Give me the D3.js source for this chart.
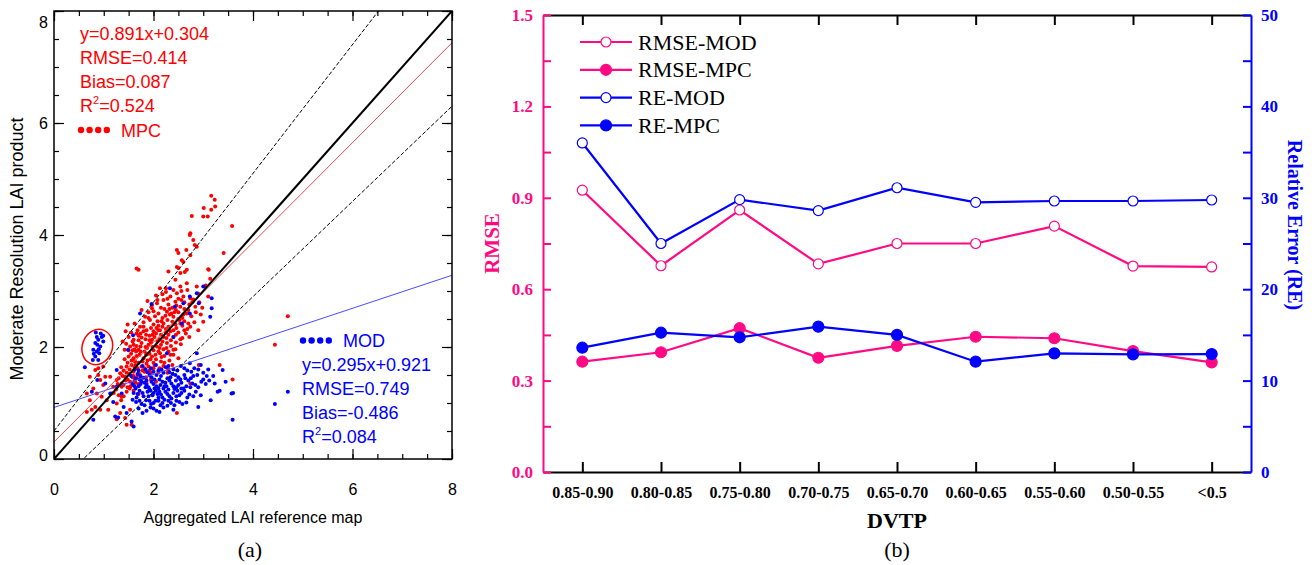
<!DOCTYPE html>
<html>
<head>
<meta charset="utf-8">
<script src="https://cdn.jsdelivr.net/npm/d3@7"></script>
<style>
  body { margin: 0; background: #fff; }
  .sans { font-family: "Liberation Sans", Arial, Helvetica, sans-serif; }
  .serif { font-family: "Liberation Serif", "Times New Roman", serif; }
</style>
</head>
<body>
<div id="wrapper"></div>
<script>
// ---- panel (a) data: scatter (LAI reference, LAI product)
const mpcPoints = [
  [3.16,4.70],[3.23,4.63],[3.24,4.51],[3.16,4.45],[3.01,4.48],[3.09,4.33],[3.58,4.16],[2.77,4.34],
  [3.00,4.33],[2.74,4.03],[2.80,3.91],[2.87,3.79],[2.66,3.73],[2.74,3.64],[2.50,3.68],[2.60,3.52],
  [3.41,3.68],[1.66,3.40],[1.70,3.38],[2.30,3.35],[2.47,3.43],[2.54,3.32],[2.67,3.38],[2.44,3.20],
  [2.54,3.08],[2.67,3.14],[2.25,3.05],[2.87,3.08],[3.11,3.38],[2.73,4.00],[2.83,3.82],[2.57,3.55],
  [2.47,3.73],[2.50,3.41],[2.63,3.34],[3.10,3.39],[3.05,3.10],[3.14,3.22],[2.98,2.70],[3.00,2.45],
  [2.90,2.30],[3.10,2.90],
  [2.13,3.05],[2.25,2.98],[2.34,2.90],[2.47,2.96],[2.60,2.90],[2.74,2.87],[2.40,3.02],[2.56,3.00],
  [2.90,2.95],[2.05,2.92],[2.68,3.02],
  [2.20,2.84],[2.07,2.78],[2.44,2.81],[2.54,2.72],[2.84,2.72],[1.97,2.75],[2.30,2.76],[2.62,2.80],
  [2.72,2.76],[2.38,2.70],[2.15,2.70],[2.92,2.80],[1.88,2.82],[2.50,2.86],[2.80,2.85],
  [1.97,2.69],[1.83,2.54],[2.10,2.60],[2.27,2.63],[2.40,2.54],[2.67,2.60],[2.03,2.55],[2.18,2.52],
  [2.33,2.58],[2.50,2.62],[2.58,2.52],[2.76,2.55],[1.90,2.62],[2.45,2.66],[2.85,2.62],[1.76,2.66],
  [2.22,2.68],[2.62,2.68],[2.95,2.58],
  [1.93,2.48],[2.54,2.42],[2.74,2.36],[1.73,2.36],[1.86,2.30],[2.13,2.30],[2.30,2.36],[1.80,2.44],
  [2.00,2.40],[2.08,2.46],[2.20,2.42],[2.38,2.45],[2.46,2.34],[2.62,2.46],[2.68,2.32],[1.62,2.42],
  [2.25,2.32],[2.82,2.44],[1.95,2.34],[2.40,2.30],[2.10,2.38],[1.68,2.30],[2.58,2.38],
  [1.66,2.24],[1.60,2.13],[1.76,2.17],[1.97,2.13],[2.20,2.18],[2.40,2.18],[1.85,2.22],[2.05,2.24],
  [2.12,2.14],[2.30,2.22],[2.50,2.26],[2.58,2.16],[1.70,2.12],[1.92,2.20],[2.35,2.12],[2.45,2.22],
  [1.55,2.26],[2.65,2.24],[2.00,2.28],[1.80,2.28],[2.25,2.26],[1.50,2.18],[2.72,2.18],[2.15,2.22],
  [1.44,2.28],[1.38,2.10],[1.42,1.95],[1.48,2.40],
  [1.53,2.01],[1.70,1.95],[1.87,1.98],[2.07,2.01],[2.27,2.07],[1.76,2.07],[1.60,2.04],[1.95,2.08],
  [2.15,2.04],[2.35,2.02],[2.45,2.08],[1.65,1.92],[1.82,1.92],[2.00,1.94],[2.20,1.96],[2.40,1.95],
  [1.45,2.06],[1.58,1.94],[2.55,2.05],[2.10,1.92],[1.90,2.04],[1.74,2.01],[2.30,1.92],
  [1.50,1.83],[1.63,1.74],[1.80,1.80],[1.97,1.83],[2.13,1.89],[1.55,1.88],[1.72,1.86],[1.88,1.76],
  [2.05,1.78],[2.22,1.84],[2.32,1.76],[1.42,1.78],[1.60,1.80],[1.92,1.88],[2.40,1.86],[2.15,1.74],
  [1.70,1.72],[1.48,1.72],[2.50,1.80],[1.85,1.86],[2.00,1.72],
  [1.46,1.65],[1.60,1.56],[1.76,1.65],[1.90,1.65],[1.52,1.60],[1.68,1.62],[1.82,1.56],[2.00,1.62],
  [2.10,1.55],[2.20,1.66],[1.40,1.58],[1.56,1.68],[1.72,1.52],[2.30,1.60],[1.95,1.54],[1.64,1.68],
  [2.38,1.68],[1.35,1.64],
  [1.43,1.47],[1.53,1.38],[1.66,1.44],[1.36,1.35],[1.48,1.42],[1.60,1.48],[1.75,1.40],[1.85,1.46],
  [1.30,1.44],[1.40,1.32],[1.95,1.42],[1.70,1.34],[2.05,1.38],[1.58,1.32],
  [1.36,1.29],[1.46,1.20],[1.30,1.14],[1.25,1.24],[1.52,1.26],[1.40,1.12],[1.60,1.22],[1.20,1.18],
  [1.70,1.16],[1.35,1.05],
  [1.52,1.52],[1.62,1.64],[1.78,1.58],[1.86,1.70],[1.94,1.78],[2.04,1.86],[2.12,1.98],[2.18,2.10],
  [2.26,2.16],[2.34,2.28],[2.44,2.40],[2.52,2.48],[2.60,2.58],[2.70,2.66],[2.78,2.80],
  [1.46,1.54],[1.56,1.76],[1.66,1.84],[1.74,1.92],[1.84,2.00],[1.92,2.12],[2.02,2.18],[2.10,2.30],
  [2.18,2.36],[2.28,2.48],[2.36,2.60],[2.46,2.74],[2.56,2.84],
  [1.58,1.46],[1.68,1.50],[1.78,1.74],[1.88,1.88],[1.98,2.00],[2.08,2.10],[2.16,1.82],[2.26,1.98],
  [2.34,1.86],[2.44,1.96],[2.54,2.14],[2.62,2.30],[2.70,2.42],
  [1.62,1.96],[1.70,2.20],[1.80,2.36],[1.90,2.52],[2.00,2.64],[2.08,2.84],[2.18,2.94],[2.28,2.86],
  [1.50,1.94],[1.58,2.10],[1.66,2.02],[1.74,2.24],[1.84,2.14],[1.98,2.22],[2.06,2.34],[2.16,2.46],
  [2.24,2.56],[2.32,2.68],[2.42,2.62],[2.50,2.50],
  [1.44,1.40],[1.54,1.30],[1.64,1.36],[1.74,1.46],[1.82,1.62],[1.92,1.58],[2.02,1.68],[2.12,1.62],
  [2.22,1.72],[2.28,1.54],[1.38,1.48],[1.28,1.34],[1.48,1.28],[1.62,1.40],
  [0.83,1.59],[0.89,1.50],[0.93,1.41],[0.99,1.32],[0.79,1.26],[0.86,1.17],[0.96,1.11],[0.72,1.05],
  [1.06,1.05],[0.83,0.93],[0.93,0.88],[0.76,0.88],[1.16,1.17],[1.19,1.29],[1.26,0.99],[1.09,0.88],
  [1.33,0.82],[1.43,0.73],[1.53,0.88],[1.56,0.61],[1.46,0.61],[0.99,1.65],[0.89,1.62],[1.03,1.47],
  [0.72,1.47],[0.66,1.17],[1.26,1.41],[1.33,1.53],[1.13,1.47],[1.36,1.11],[0.66,0.84],[1.26,0.71],
  [2.91,1.68],[2.74,1.35],[2.47,0.82],[3.33,1.68],[3.59,1.42],[1.86,1.35],
  [4.70,2.55],[4.44,2.04]
]

const modPoints = [
  [0.94,2.24],[0.99,2.20],[0.86,2.18],[0.89,2.13],[0.83,2.07],[0.87,2.04],[0.93,2.01],[0.79,1.95],
  [0.86,1.92],[0.91,1.89],[0.83,1.83],[0.78,1.77],[0.89,1.77],[0.96,2.18],[0.99,2.10],[0.84,2.26],
  [0.90,1.96],[0.80,1.88],
  [0.62,1.64],[0.76,1.20],[0.87,1.41],[0.79,0.70],[1.13,1.17],[1.19,1.02],[1.03,1.35],[1.26,1.29],
  [1.36,1.17],[1.40,0.93],[1.56,0.67],[1.60,0.58],[1.46,0.82],[1.23,0.76],[1.29,0.74],[1.26,1.59],
  [1.62,1.60],[1.78,1.66],[1.95,1.62],[2.10,1.58],[2.25,1.64],[2.40,1.60],[2.55,1.66],[2.68,1.58],
  [2.82,1.62],[1.88,1.55],[2.32,1.55],[2.95,1.68],[3.10,1.60],[2.05,1.68],
  [1.55,1.48],[1.68,1.52],[1.80,1.45],[1.92,1.50],[2.02,1.42],[2.15,1.48],[2.28,1.44],[2.38,1.52],
  [2.50,1.46],[2.62,1.50],[2.75,1.44],[2.88,1.50],[3.00,1.42],[1.72,1.42],[2.45,1.40],[2.20,1.54],
  [3.20,1.48],[3.07,1.48],
  [1.58,1.34],[1.70,1.30],[1.82,1.36],[1.90,1.28],[2.00,1.34],[2.10,1.26],[2.18,1.38],[2.26,1.30],
  [2.36,1.35],[2.46,1.28],[2.56,1.36],[2.66,1.30],[2.78,1.35],[2.90,1.28],[1.64,1.26],[1.96,1.38],
  [2.42,1.25],[3.05,1.34],[3.23,1.35],[2.70,1.40],[2.14,1.32],[1.76,1.38],[2.32,1.40],[2.06,1.30],
  [1.60,1.18],[1.72,1.22],[1.80,1.12],[1.88,1.20],[1.98,1.14],[2.05,1.22],[2.15,1.15],[2.24,1.20],
  [2.32,1.12],[2.40,1.18],[2.52,1.14],[2.62,1.22],[2.72,1.15],[2.85,1.20],[1.66,1.10],[2.10,1.10],
  [2.95,1.14],[3.29,1.20],[3.57,1.17],[1.92,1.24],[2.48,1.22],[2.20,1.26],[1.84,1.28],[2.56,1.26],
  [1.65,1.02],[1.76,0.98],[1.85,1.05],[1.95,0.98],[2.04,1.04],[2.14,0.96],[2.22,1.06],[2.35,1.00],
  [2.46,1.04],[2.58,0.98],[2.66,1.01],[1.58,1.06],[2.28,0.95],[2.90,0.93],
  [1.70,0.90],[1.86,0.86],[2.00,0.90],[2.12,0.84],[2.40,0.88],[2.20,0.92],[1.78,0.82],
  [1.64,1.44],[1.74,1.48],[1.86,1.40],[1.96,1.46],[2.06,1.50],[2.12,1.42],[2.24,1.36],[2.34,1.46],
  [2.44,1.50],[2.54,1.42],[2.64,1.44],[2.80,1.48],
  [1.62,1.30],[1.74,1.34],[1.86,1.32],[1.94,1.22],[2.02,1.26],[2.12,1.20],[2.22,1.30],[2.30,1.24],
  [2.40,1.30],[2.50,1.32],[2.60,1.26],[2.74,1.28],[2.84,1.32],
  [1.68,1.16],[1.78,1.18],[1.90,1.12],[2.00,1.18],[2.08,1.16],[2.18,1.10],[2.28,1.16],[2.36,1.08],
  [2.46,1.12],[2.56,1.18],[2.68,1.10],[2.80,1.12],
  [1.72,1.04],[1.82,0.96],[1.92,1.04],[2.00,1.00],[2.10,1.04],[2.18,1.00],[2.30,1.04],[2.42,0.96],
  [2.52,1.02],[1.94,0.92],[2.06,0.86],
  [1.70,1.58],[1.84,1.60],[2.00,1.56],[2.16,1.60],[2.30,1.66],[2.48,1.58],[2.62,1.62],[2.76,1.56],
  [2.90,1.60],[3.00,1.54],[3.12,1.40],[2.96,1.38],
  [3.39,1.59],[3.59,0.70],[4.44,0.98],[4.70,1.20],[3.33,1.22],[3.60,1.18],[3.15,1.05],[3.45,1.38],
  [1.96,2.77],[1.73,2.60],[2.33,3.05],[2.43,2.72],[2.60,2.78],[2.73,2.90],[2.87,2.96],[3.00,3.08],
  [3.17,2.87],[3.17,2.69],[3.14,2.54],[2.73,2.60],[2.57,2.42],[2.40,2.18],[2.27,1.89],[2.73,1.71],
  [2.87,1.89],[1.59,2.21],[1.49,1.95],[2.91,2.78]
]

const fitMpc = [0.891, 0.304]   // slope, intercept
const fitMod = [0.295, 0.921]
const textMpc = ["y=0.891x+0.304", "RMSE=0.414", "Bias=0.087", "0.524"]
const textMod = ["y=0.295x+0.921", "RMSE=0.749", "Bias=-0.486", "0.084"]

// ---- panel (b) data
const categories = ["0.85-0.90","0.80-0.85","0.75-0.80","0.70-0.75","0.65-0.70","0.60-0.65","0.55-0.60","0.50-0.55","<0.5"]
const rmseMod = [0.925, 0.677, 0.860, 0.683, 0.750, 0.750, 0.807, 0.676, 0.673]
const rmseMpc = [0.362, 0.393, 0.472, 0.375, 0.414, 0.444, 0.439, 0.397, 0.360]
const reMod   = [36.0, 25.0, 29.8, 28.6, 31.1, 29.5, 29.65, 29.65, 29.76]
const reMpc   = [13.6, 15.24, 14.74, 15.9, 15.0, 12.07, 12.98, 12.87, 12.9]

function drawChart() {
  const pink = "#ff0a84"
  const blue = "#0000ff"

  const wrapper = d3.select("#wrapper")
    .append("svg")
      .attr("width", 1315)
      .attr("height", 565)

  // ================= panel (a) =================
  const a = { left: 54, right: 452, top: 11, bottom: 459 }
  const xA = d3.scaleLinear([0, 8], [a.left, a.right])
  const yA = d3.scaleLinear([0, 8], [a.bottom, a.top])

  const pa = wrapper.append("g").attr("class", "sans")

  wrapper.append("clipPath").attr("id", "clipA")
    .append("rect")
      .attr("x", a.left).attr("y", a.top)
      .attr("width", a.right - a.left).attr("height", a.bottom - a.top)

  const pts = pa.append("g").attr("clip-path", "url(#clipA)")
  pts.append("g").selectAll("circle")
    .data(mpcPoints)
    .join("circle")
      .attr("cx", d => xA(d[0]))
      .attr("cy", d => yA(d[1]))
      .attr("r", 2)
      .attr("fill", "#ff0000")
  pts.append("g").selectAll("circle")
    .data(modPoints)
    .join("circle")
      .attr("cx", d => xA(d[0]))
      .attr("cy", d => yA(d[1]))
      .attr("r", 2)
      .attr("fill", blue)

  // reference and fitted lines
  const lineA = d3.line().x(d => xA(d[0])).y(d => yA(d[1]))
  const fn = (s, b) => [[0, b], [8, s * 8 + b]]
  const lines = pa.append("g").attr("clip-path", "url(#clipA)").attr("fill", "none")
  lines.append("path").attr("d", lineA(fn(fitMod[0], fitMod[1]))).attr("stroke", "#4a4aff").attr("stroke-width", 1)
  lines.append("path").attr("d", lineA(fn(fitMpc[0], fitMpc[1]))).attr("stroke", "#f24a4a").attr("stroke-width", 1)
  lines.append("path").attr("d", lineA(fn(1.15, 0.5))).attr("stroke", "#000").attr("stroke-width", 1).attr("stroke-dasharray", "4,2")
  lines.append("path").attr("d", lineA(fn(0.85, -0.5))).attr("stroke", "#000").attr("stroke-width", 1).attr("stroke-dasharray", "4,2")
  lines.append("path").attr("d", lineA(fn(1, 0))).attr("stroke", "#000").attr("stroke-width", 2)

  // circled cluster
  pa.append("ellipse")
    .attr("transform", `translate(${xA(0.87)},${yA(2.0)}) rotate(20)`)
    .attr("rx", 15).attr("ry", 18)
    .attr("fill", "none").attr("stroke", "#ff0000").attr("stroke-width", 1.5)

  // frame and ticks
  pa.append("rect")
    .attr("x", a.left).attr("y", a.top)
    .attr("width", a.right - a.left).attr("height", a.bottom - a.top)
    .attr("fill", "none").attr("stroke", "#000").attr("stroke-width", 1.5)

  const minor = d3.range(0, 8.01, 0.5)
  const major = [0, 2, 4, 6, 8]
  const styleAxis = g => {
    g.select(".domain").remove()
    g.selectAll("line").attr("stroke", "#000").attr("stroke-width", 1.2)
    g.selectAll("text").attr("font-size", 16).attr("fill", "#000")
      .attr("font-family", "Liberation Sans, Arial, sans-serif")
  }
  pa.append("g").attr("transform", `translate(0,${a.bottom})`)
    .call(d3.axisBottom(xA).tickValues(minor).tickSize(-5).tickFormat("")).call(styleAxis)
  pa.append("g").attr("transform", `translate(0,${a.bottom})`)
    .call(d3.axisBottom(xA).tickValues(major).tickSize(-10).tickPadding(25).tickFormat(d3.format("d"))).call(styleAxis)
  pa.append("g").attr("transform", `translate(0,${a.top})`)
    .call(d3.axisTop(xA).tickValues(minor).tickSize(-5).tickFormat("")).call(styleAxis)
  pa.append("g").attr("transform", `translate(0,${a.top})`)
    .call(d3.axisTop(xA).tickValues(major).tickSize(-10).tickFormat("")).call(styleAxis)
  pa.append("g").attr("transform", `translate(${a.left},0)`)
    .call(d3.axisLeft(yA).tickValues(minor).tickSize(-5).tickFormat("")).call(styleAxis)
  const yLab = pa.append("g").attr("transform", `translate(${a.left},0)`)
    .call(d3.axisLeft(yA).tickValues(major).tickSize(-10).tickPadding(6).tickFormat(d3.format("d"))).call(styleAxis)
  yLab.selectAll(".tick text").filter(d => d === 8).attr("dy", "1.0em")
  yLab.selectAll(".tick text").filter(d => d === 0).attr("dy", "0.1em")
  pa.append("g").attr("transform", `translate(${a.right},0)`)
    .call(d3.axisRight(yA).tickValues(minor).tickSize(-5).tickFormat("")).call(styleAxis)
  pa.append("g").attr("transform", `translate(${a.right},0)`)
    .call(d3.axisRight(yA).tickValues(major).tickSize(-10).tickFormat("")).call(styleAxis)

  // stats text
  const statBlock = (x, y0, lines, color) => {
    const t = pa.append("g").attr("fill", color).attr("font-size", 18)
    lines.forEach((s, i) => {
      const txt = t.append("text").attr("x", x).attr("y", y0 + i * 24)
      if (i === 3) {
        txt.append("tspan").text("R")
        txt.append("tspan").attr("font-size", 11).attr("dy", -8).text("2")
        txt.append("tspan").attr("dy", 8).text("=" + s)
      } else {
        txt.text(s)
      }
    })
  }
  statBlock(80, 40, textMpc, "#ff0000")
  statBlock(302, 371, textMod, blue)

  const legendDots = (x0, y, color, label) => {
    pa.append("g").selectAll("circle")
      .data(d3.range(4))
      .join("circle")
        .attr("cx", d => x0 + d * 8.6)
        .attr("cy", y)
        .attr("r", 3.2)
        .attr("fill", color)
    pa.append("text").attr("x", x0 + 40).attr("y", y + 6.5)
      .attr("fill", color).attr("font-size", 18).text(label)
  }
  legendDots(81, 130, "#ff0000", "MPC")
  legendDots(303, 340.5, blue, "MOD")

  pa.append("text")
    .attr("transform", `translate(23,249) rotate(-90)`)
    .attr("text-anchor", "middle").attr("font-size", 18)
    .text("Moderate Resolution LAI product")
  pa.append("text")
    .attr("x", (a.left + a.right) / 2).attr("y", 523)
    .attr("text-anchor", "middle").attr("font-size", 16)
    .text("Aggregated LAI reference map")
  wrapper.append("text").attr("class", "serif")
    .attr("x", 250).attr("y", 557)
    .attr("text-anchor", "middle").attr("font-size", 22)
    .text("(a)")

  // ================= panel (b) =================
  const b = { left: 543, right: 1251, top: 15, bottom: 472 }
  const xB = d3.scalePoint(categories, [b.left, b.right]).padding(0.5)
  const yL = d3.scaleLinear([0, 1.5], [b.bottom, b.top])
  const yR = d3.scaleLinear([0, 50], [b.bottom, b.top])

  const pb = wrapper.append("g").attr("class", "serif")

  // top & bottom frame
  pb.append("g").attr("transform", `translate(0,${b.top})`)
    .call(d3.axisTop(xB).tickSize(-10).tickSizeOuter(0).tickFormat(""))
    .call(g => g.select(".domain").attr("stroke-width", 2))
    .call(g => g.selectAll("line").attr("stroke-width", 2))
  pb.append("g").attr("transform", `translate(0,${b.bottom})`)
    .call(d3.axisBottom(xB).tickSize(-10).tickSizeOuter(0).tickPadding(15))
    .call(g => g.select(".domain").attr("stroke-width", 2))
    .call(g => g.selectAll("line").attr("stroke-width", 2))
    .call(g => g.selectAll("text").attr("font-size", 16).attr("font-weight", "bold")
      .attr("font-family", "Liberation Serif, Times New Roman, serif"))

  // left RMSE axis
  pb.append("g").attr("transform", `translate(${b.left},0)`)
    .call(d3.axisLeft(yL).tickValues(d3.range(0, 1.51, 0.15)).tickSize(-8).tickSizeOuter(0).tickFormat(""))
    .call(g => g.selectAll(".domain, line").attr("stroke", pink).attr("stroke-width", 2))
  pb.append("g").attr("transform", `translate(${b.left},0)`)
    .call(d3.axisLeft(yL).tickValues(d3.range(0, 1.51, 0.3)).tickSize(0).tickPadding(10).tickFormat(d3.format(".1f")))
    .call(g => g.select(".domain").remove())
    .call(g => g.selectAll("text").attr("fill", pink).attr("font-size", 17).attr("font-weight", "bold")
      .attr("font-family", "Liberation Serif, Times New Roman, serif"))

  // right RE axis
  pb.append("g").attr("transform", `translate(${b.right},0)`)
    .call(d3.axisRight(yR).tickValues(d3.range(0, 50.1, 5)).tickSize(-8).tickSizeOuter(0).tickFormat(""))
    .call(g => g.selectAll(".domain, line").attr("stroke", blue).attr("stroke-width", 2))
  pb.append("g").attr("transform", `translate(${b.right},0)`)
    .call(d3.axisRight(yR).tickValues(d3.range(0, 50.1, 10)).tickSize(0).tickPadding(10).tickFormat(d3.format("d")))
    .call(g => g.select(".domain").remove())
    .call(g => g.selectAll("text").attr("fill", blue).attr("font-size", 17).attr("font-weight", "bold")
      .attr("font-family", "Liberation Serif, Times New Roman, serif"))

  // series
  const series = [
    { name: "RMSE-MOD", values: rmseMod, y: yL, color: pink, open: true },
    { name: "RMSE-MPC", values: rmseMpc, y: yL, color: pink, open: false },
    { name: "RE-MOD",   values: reMod,   y: yR, color: blue, open: true },
    { name: "RE-MPC",   values: reMpc,   y: yR, color: blue, open: false },
  ]

  series.forEach(s => {
    const line = d3.line()
      .x((d, i) => xB(categories[i]))
      .y(d => s.y(d))
    const g = pb.append("g")
    g.append("path")
      .attr("d", line(s.values))
      .attr("fill", "none")
      .attr("stroke", s.color)
      .attr("stroke-width", 2.2)
    g.selectAll("circle")
      .data(s.values)
      .join("circle")
        .attr("cx", (d, i) => xB(categories[i]))
        .attr("cy", d => s.y(d))
        .attr("r", s.open ? 5 : 5.5)
        .attr("fill", s.open ? "#fff" : s.color)
        .attr("stroke", s.color)
        .attr("stroke-width", 1.2)
  })

  // legend
  const legend = pb.append("g")
  series.forEach((s, i) => {
    const y = 42 + i * 27.8
    legend.append("line")
      .attr("x1", 580).attr("x2", 632).attr("y1", y).attr("y2", y)
      .attr("stroke", s.color).attr("stroke-width", 2.2)
    legend.append("circle")
      .attr("cx", 606).attr("cy", y).attr("r", s.open ? 5 : 5.5)
      .attr("fill", s.open ? "#fff" : s.color)
      .attr("stroke", s.color).attr("stroke-width", 1.2)
    legend.append("text")
      .attr("x", 638).attr("y", y + 7.5)
      .attr("font-size", 22).attr("fill", "#000")
      .text(s.name)
  })

  // axis titles
  pb.append("text")
    .attr("transform", `translate(499,${(b.top + b.bottom) / 2}) rotate(-90)`)
    .attr("text-anchor", "middle").attr("font-size", 21).attr("font-weight", "bold")
    .attr("fill", pink).text("RMSE")
  pb.append("text")
    .attr("transform", `translate(1288,225) rotate(90)`)
    .attr("text-anchor", "middle").attr("font-size", 20).attr("font-weight", "bold")
    .attr("fill", blue).text("Relative Error (RE)")
  pb.append("text")
    .attr("x", 897).attr("y", 528)
    .attr("text-anchor", "middle").attr("font-size", 22).attr("font-weight", "bold")
    .text("DVTP")
  pb.append("text")
    .attr("x", 897).attr("y", 557)
    .attr("text-anchor", "middle").attr("font-size", 22)
    .text("(b)")
}

drawChart()
</script>
</body>
</html>
